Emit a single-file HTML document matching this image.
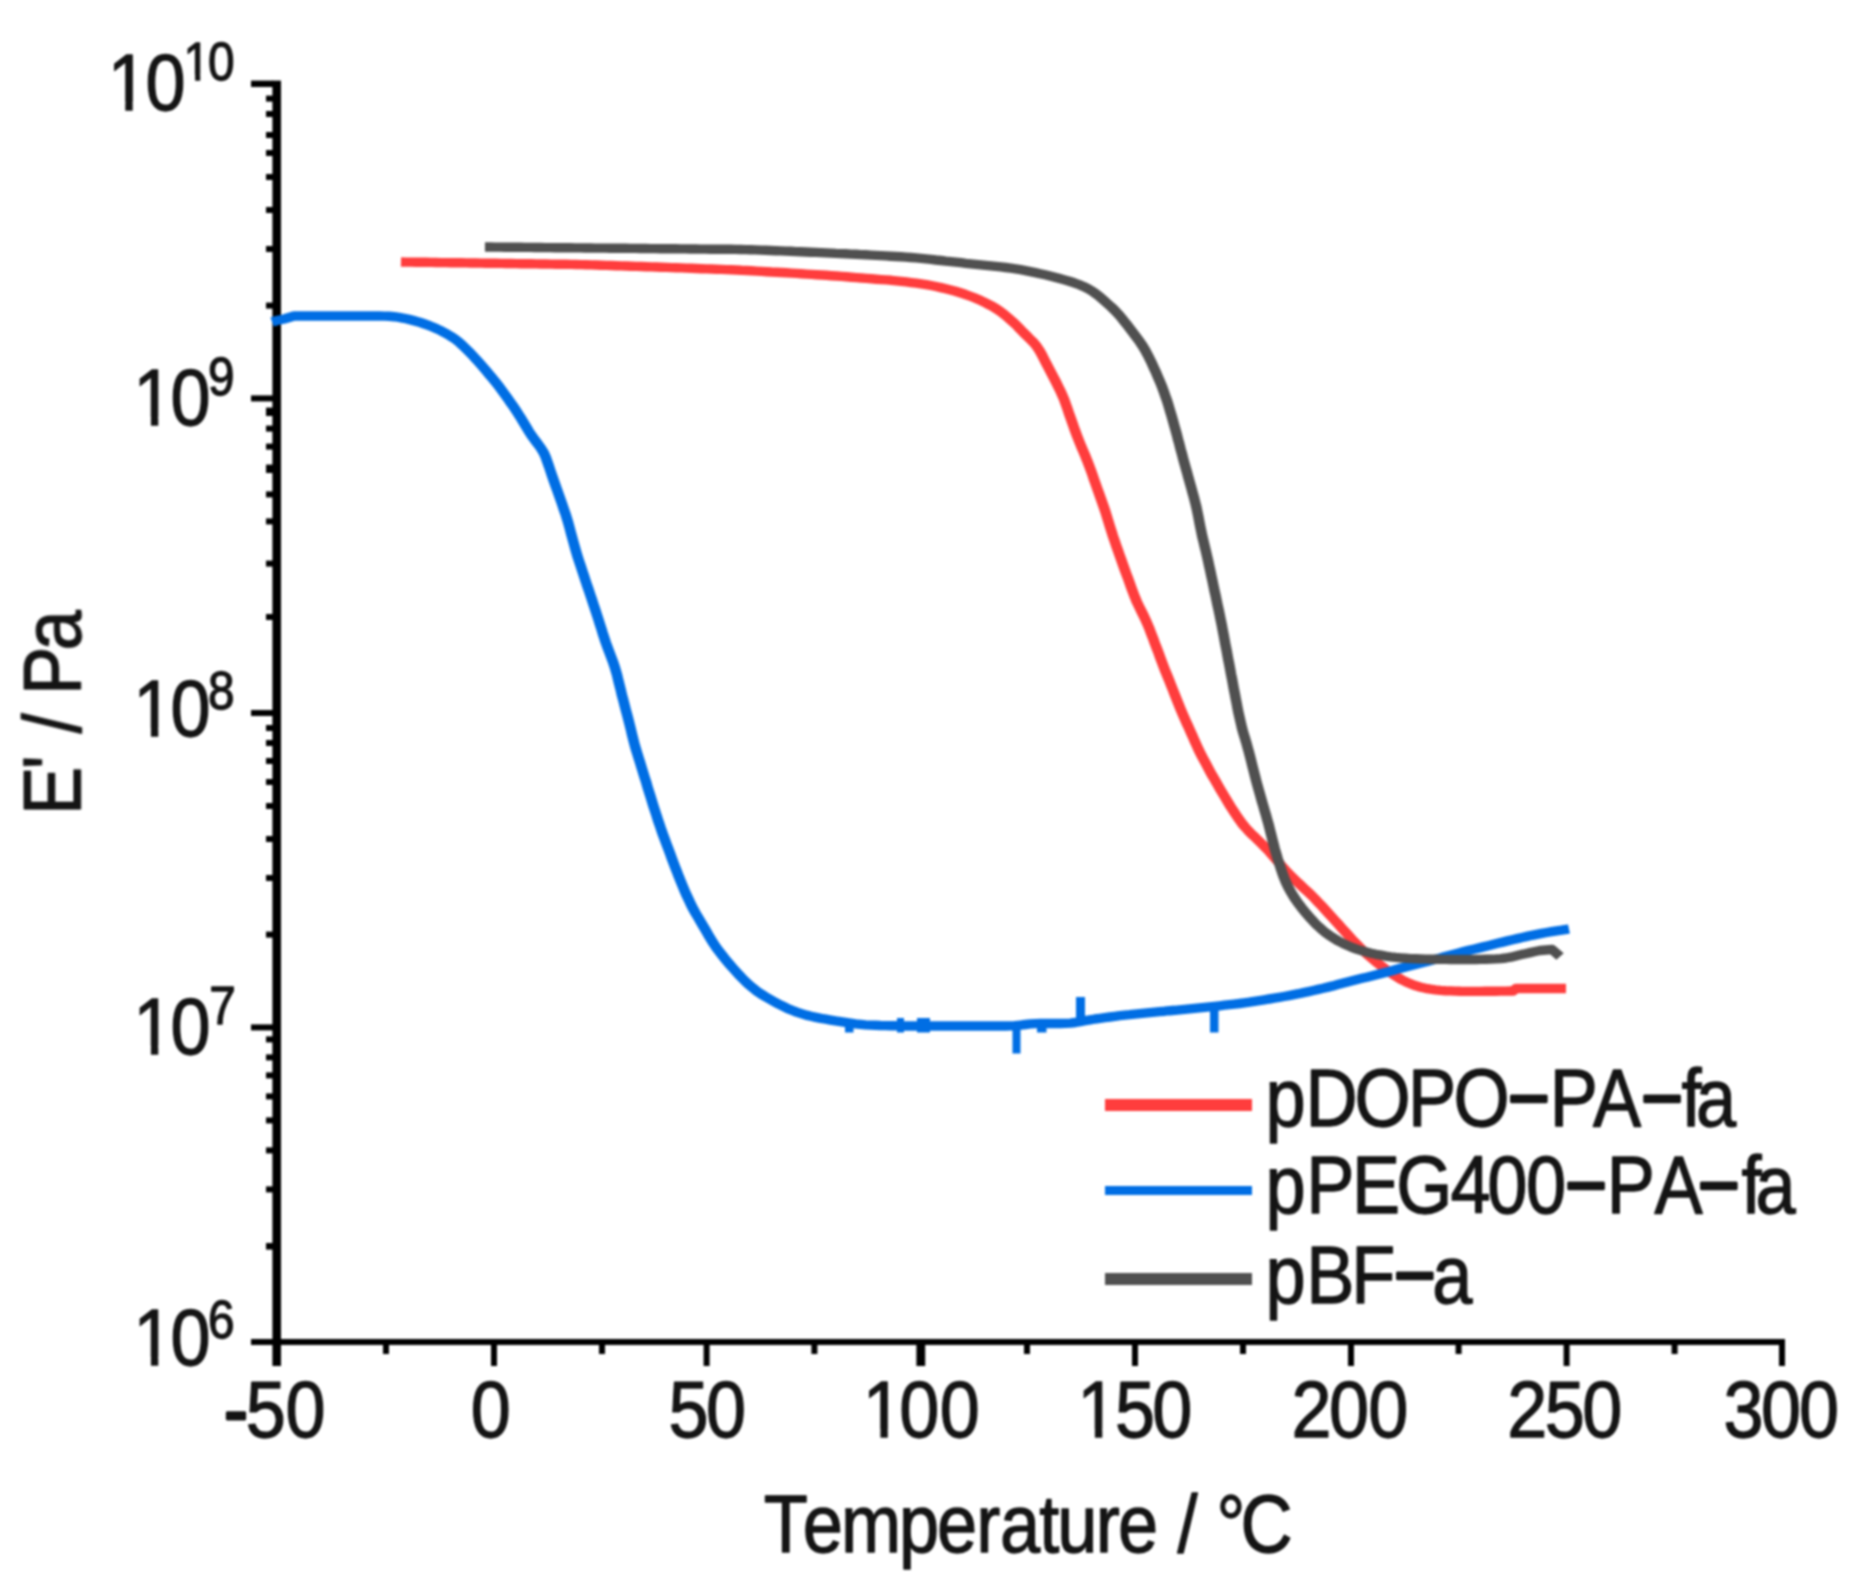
<!DOCTYPE html>
<html lang="en"><head><meta charset="utf-8"><title>Storage modulus vs temperature</title>
<style>html,body{margin:0;padding:0;background:#fff}svg{display:block}</style></head>
<body>
<svg width="1875" height="1595" viewBox="0 0 1875 1595">
<defs><filter id="soft" color-interpolation-filters="sRGB" x="0" y="0" width="1875" height="1595" filterUnits="userSpaceOnUse"><feGaussianBlur stdDeviation="0.9"/></filter></defs>
<rect width="1875" height="1595" fill="#fff"/>
<g filter="url(#soft)">
<g fill="#000">
<rect x="272.4" y="80.6" width="8.6" height="1285.4"/>
<rect x="251" y="1339" width="1534" height="6"/>
<rect x="251" y="80.6" width="22" height="6.4"/>
<rect x="251" y="395.4" width="22" height="6.0"/>
<rect x="251" y="710.0" width="22" height="6.0"/>
<rect x="251" y="1024.4" width="22" height="6.0"/>
<rect x="266" y="95.6" width="7" height="6.0"/>
<rect x="266" y="111.0" width="7" height="6.0"/>
<rect x="266" y="132.0" width="7" height="6.0"/>
<rect x="266" y="150.0" width="7" height="6.0"/>
<rect x="266" y="174.0" width="7" height="6.0"/>
<rect x="266" y="207.0" width="7" height="6.0"/>
<rect x="266" y="246.0" width="7" height="6.0"/>
<rect x="266" y="302.6" width="7" height="6.0"/>
<rect x="266" y="407.6" width="7" height="8.4"/>
<rect x="266" y="425.6" width="7" height="6.0"/>
<rect x="266" y="443.6" width="7" height="6.0"/>
<rect x="266" y="464.6" width="7" height="8.4"/>
<rect x="266" y="491.4" width="7" height="6.0"/>
<rect x="266" y="518.4" width="7" height="6.0"/>
<rect x="266" y="560.6" width="7" height="6.0"/>
<rect x="266" y="614.0" width="7" height="6.0"/>
<rect x="266" y="725.0" width="7" height="6.0"/>
<rect x="266" y="740.0" width="7" height="6.0"/>
<rect x="266" y="758.0" width="7" height="6.0"/>
<rect x="266" y="779.0" width="7" height="6.0"/>
<rect x="266" y="803.0" width="7" height="6.0"/>
<rect x="266" y="836.0" width="7" height="6.0"/>
<rect x="266" y="875.0" width="7" height="6.0"/>
<rect x="266" y="931.6" width="7" height="6.0"/>
<rect x="266" y="1036.4" width="7" height="6.0"/>
<rect x="266" y="1054.4" width="7" height="6.0"/>
<rect x="266" y="1072.4" width="7" height="6.0"/>
<rect x="266" y="1093.4" width="7" height="6.0"/>
<rect x="266" y="1117.4" width="7" height="6.0"/>
<rect x="266" y="1147.4" width="7" height="6.0"/>
<rect x="266" y="1186.4" width="7" height="6.0"/>
<rect x="266" y="1243.0" width="7" height="6.6"/>
<rect x="491.0" y="1344" width="6.0" height="22"/>
<rect x="703.6" y="1344" width="6.0" height="22"/>
<rect x="916.4" y="1344" width="8.8" height="22"/>
<rect x="1132.0" y="1344" width="6.0" height="22"/>
<rect x="1348.0" y="1344" width="6.0" height="22"/>
<rect x="1563.6" y="1344" width="6.0" height="22"/>
<rect x="1779.0" y="1344" width="6.0" height="22"/>
<rect x="383.0" y="1344" width="6.0" height="10"/>
<rect x="599.0" y="1344" width="6.0" height="10"/>
<rect x="811.4" y="1344" width="6.0" height="10"/>
<rect x="1024.0" y="1344" width="6.0" height="10"/>
<rect x="1240.0" y="1344" width="6.0" height="10"/>
<rect x="1455.6" y="1344" width="6.0" height="10"/>
<rect x="1671.6" y="1344" width="6.0" height="10"/>
</g>
<g fill="none" stroke-linejoin="round" stroke-linecap="butt" transform="scale(1.12 1)">
<path d="M358.0 262.0 L362.5 262.1 L367.0 262.1 L371.5 262.2 L375.9 262.3 L380.4 262.3 L384.9 262.4 L389.3 262.5 L393.8 262.6 L398.3 262.6 L402.8 262.7 L407.2 262.8 L411.7 262.8 L416.2 262.9 L420.6 263.0 L425.1 263.0 L429.6 263.1 L434.1 263.2 L438.5 263.3 L443.0 263.3 L447.5 263.4 L451.9 263.5 L456.4 263.5 L460.9 263.6 L465.4 263.7 L469.8 263.7 L474.3 263.8 L478.8 263.9 L483.2 264.0 L487.7 264.0 L492.2 264.1 L496.7 264.2 L501.1 264.2 L505.6 264.3 L510.1 264.4 L514.5 264.5 L519.0 264.6 L523.5 264.7 L528.0 264.9 L532.4 265.0 L536.9 265.2 L541.4 265.4 L545.8 265.5 L550.3 265.7 L554.8 265.9 L559.2 266.0 L563.7 266.2 L568.2 266.4 L572.7 266.5 L577.1 266.7 L581.6 266.9 L586.1 267.0 L590.5 267.2 L595.0 267.4 L599.5 267.6 L603.9 267.7 L608.4 267.9 L612.9 268.1 L617.4 268.3 L621.8 268.5 L626.3 268.7 L630.8 268.9 L635.2 269.0 L639.7 269.2 L644.2 269.4 L648.6 269.6 L653.1 269.8 L657.6 270.0 L662.0 270.3 L666.5 270.5 L671.0 270.8 L675.4 271.1 L679.9 271.4 L684.4 271.7 L688.8 272.0 L693.3 272.2 L697.8 272.5 L702.2 272.8 L706.7 273.1 L711.2 273.4 L715.6 273.7 L720.1 274.1 L724.5 274.4 L729.0 274.7 L733.5 275.0 L737.9 275.3 L742.4 275.7 L746.9 276.0 L751.3 276.4 L755.8 276.8 L760.2 277.2 L764.7 277.6 L769.1 278.0 L773.6 278.4 L778.1 278.8 L782.5 279.2 L787.0 279.6 L791.4 279.9 L795.9 280.3 L800.3 280.8 L804.8 281.3 L809.2 281.9 L813.7 282.6 L818.1 283.2 L822.5 283.9 L827.0 284.6 L831.3 285.5 L835.7 286.5 L840.1 287.6 L844.4 288.8 L848.8 290.0 L853.1 291.3 L857.4 292.8 L861.6 294.3 L865.8 296.0 L870.0 297.8 L874.1 299.7 L878.1 301.8 L882.1 304.1 L886.1 306.4 L889.9 309.0 L893.5 311.8 L897.1 314.9 L900.5 318.1 L903.8 321.4 L907.1 324.8 L910.2 328.4 L913.3 332.0 L916.5 335.5 L919.6 339.0 L922.8 342.5 L925.6 346.3 L928.0 350.3 L930.2 354.7 L932.2 359.1 L934.2 363.6 L936.3 368.0 L938.4 372.4 L940.5 376.9 L942.5 381.3 L944.5 385.8 L946.5 390.3 L948.3 394.8 L950.1 399.4 L951.6 404.1 L953.1 408.9 L954.5 413.6 L956.0 418.3 L957.5 423.0 L959.0 427.8 L960.5 432.5 L962.1 437.2 L963.7 441.8 L965.4 446.5 L967.2 451.1 L968.9 455.7 L970.6 460.3 L972.2 465.0 L973.8 469.7 L975.3 474.4 L976.7 479.1 L978.2 483.9 L979.7 488.6 L981.2 493.3 L982.7 498.0 L984.2 502.7 L985.7 507.5 L987.1 512.2 L988.4 517.0 L989.7 521.8 L991.0 526.6 L992.4 531.4 L993.7 536.1 L995.2 540.9 L996.6 545.6 L998.1 550.3 L999.6 555.1 L1001.1 559.8 L1002.6 564.5 L1004.1 569.2 L1005.6 573.9 L1007.2 578.6 L1008.7 583.3 L1010.2 588.0 L1011.8 592.7 L1013.4 597.4 L1015.1 602.0 L1017.0 606.5 L1019.0 611.0 L1021.0 615.5 L1022.9 620.0 L1024.7 624.6 L1026.4 629.2 L1028.0 633.9 L1029.6 638.6 L1031.1 643.3 L1032.7 647.9 L1034.3 652.6 L1035.8 657.3 L1037.4 662.0 L1039.0 666.7 L1040.6 671.4 L1042.3 676.0 L1044.0 680.7 L1045.6 685.3 L1047.3 690.0 L1048.9 694.6 L1050.6 699.3 L1052.2 703.9 L1053.9 708.6 L1055.6 713.2 L1057.4 717.8 L1059.2 722.4 L1061.1 726.9 L1062.9 731.5 L1064.8 736.1 L1066.5 740.6 L1068.4 745.2 L1070.2 749.8 L1072.2 754.2 L1074.3 758.7 L1076.4 763.1 L1078.5 767.5 L1080.6 771.9 L1082.8 776.3 L1085.1 780.6 L1087.3 785.0 L1089.5 789.3 L1091.8 793.6 L1094.1 797.9 L1096.4 802.2 L1098.7 806.5 L1101.1 810.7 L1103.6 814.9 L1106.1 819.0 L1108.7 823.1 L1111.5 826.9 L1114.5 830.6 L1117.6 834.2 L1120.9 837.6 L1124.1 841.1 L1127.3 844.6 L1130.4 848.2 L1133.5 851.8 L1136.4 855.6 L1139.3 859.4 L1142.2 863.2 L1145.1 867.0 L1148.1 870.7 L1151.2 874.3 L1154.4 877.8 L1157.6 881.3 L1160.9 884.8 L1164.1 888.2 L1167.4 891.6 L1170.7 895.0 L1173.8 898.5 L1176.9 902.2 L1180.0 905.8 L1183.0 909.5 L1186.0 913.2 L1189.0 916.9 L1192.0 920.6 L1195.0 924.3 L1198.0 928.1 L1201.0 931.8 L1204.0 935.5 L1207.0 939.2 L1210.1 942.8 L1213.2 946.4 L1216.4 949.9 L1219.7 953.3 L1223.1 956.6 L1226.5 959.8 L1229.9 963.0 L1233.5 966.1 L1237.0 969.1 L1240.7 972.0 L1244.3 974.8 L1248.1 977.5 L1251.9 980.0 L1255.9 982.2 L1260.0 984.1 L1264.2 985.8 L1268.5 987.2 L1272.8 988.3 L1277.2 989.2 L1281.6 989.9 L1286.1 990.4 L1290.5 990.7 L1295.0 990.9 L1299.5 991.1 L1303.9 991.3 L1308.4 991.4 L1312.9 991.4 L1317.4 991.4 L1321.8 991.4 L1326.3 991.3 L1330.8 991.2 L1335.2 991.2 L1339.7 991.1 L1344.2 991.1 L1348.7 991.0 L1350.9 991.0 L1353.6 988.5 L1398.2 988.5" stroke="#FF3D3D" stroke-width="9.4"/>
<path d="M243.0 322.0 L247.3 320.5 L253.6 319.0 L262.5 316.0 L267.0 316.0 L271.4 316.0 L275.9 316.0 L280.4 316.0 L284.9 316.0 L289.3 316.0 L293.8 316.0 L298.3 316.0 L302.8 316.0 L307.2 316.0 L311.7 316.0 L316.2 316.0 L320.7 316.0 L325.1 316.0 L329.6 316.0 L334.1 316.0 L338.6 316.0 L343.0 316.1 L347.5 316.3 L351.9 316.7 L356.3 317.4 L360.7 318.3 L365.1 319.4 L369.4 320.6 L373.7 321.9 L377.9 323.5 L382.1 325.2 L386.3 327.0 L390.4 329.0 L394.4 331.2 L398.3 333.6 L402.2 336.1 L405.9 338.8 L409.4 341.8 L412.7 345.1 L415.9 348.6 L419.1 352.2 L422.2 355.8 L425.2 359.4 L428.2 363.2 L431.1 366.9 L434.0 370.7 L436.9 374.6 L439.8 378.4 L442.6 382.3 L445.4 386.2 L448.0 390.3 L450.6 394.3 L453.3 398.4 L455.8 402.5 L458.4 406.6 L460.9 410.7 L463.3 415.0 L465.7 419.2 L468.0 423.5 L470.3 427.8 L472.6 432.1 L475.1 436.2 L477.7 440.3 L480.4 444.2 L483.0 448.2 L485.3 452.4 L487.1 456.8 L488.6 461.5 L490.1 466.2 L491.5 471.0 L492.9 475.7 L494.4 480.5 L495.9 485.2 L497.4 489.9 L498.9 494.7 L500.4 499.4 L501.9 504.1 L503.3 508.8 L504.8 513.6 L506.1 518.3 L507.4 523.1 L508.6 528.0 L509.7 532.8 L510.9 537.6 L512.1 542.5 L513.3 547.3 L514.5 552.1 L515.8 556.9 L517.2 561.7 L518.6 566.4 L520.0 571.2 L521.4 575.9 L522.8 580.7 L524.2 585.5 L525.7 590.2 L527.1 595.0 L528.5 599.7 L529.9 604.5 L531.3 609.2 L532.7 614.0 L534.1 618.8 L535.4 623.5 L536.8 628.3 L538.1 633.1 L539.5 637.8 L540.9 642.6 L542.4 647.3 L544.0 652.0 L545.6 656.7 L547.2 661.4 L548.6 666.1 L549.9 670.9 L551.1 675.7 L552.1 680.6 L553.2 685.4 L554.3 690.3 L555.3 695.2 L556.5 700.0 L557.6 704.9 L558.7 709.7 L559.9 714.6 L561.0 719.4 L562.1 724.3 L563.2 729.1 L564.2 734.0 L565.3 738.9 L566.4 743.7 L567.6 748.5 L568.9 753.3 L570.2 758.1 L571.6 762.9 L572.9 767.7 L574.2 772.5 L575.5 777.2 L576.9 782.0 L578.1 786.8 L579.4 791.6 L580.8 796.4 L582.1 801.2 L583.4 806.0 L584.8 810.8 L586.2 815.5 L587.5 820.3 L589.0 825.0 L590.4 829.8 L591.9 834.5 L593.5 839.2 L595.0 843.9 L596.6 848.6 L598.2 853.3 L599.7 858.0 L601.3 862.7 L602.9 867.4 L604.5 872.0 L606.1 876.7 L607.8 881.3 L609.5 886.0 L611.2 890.6 L613.0 895.2 L614.9 899.7 L616.8 904.3 L618.8 908.7 L621.0 913.1 L623.3 917.4 L625.5 921.7 L627.8 926.0 L630.1 930.3 L632.3 934.7 L634.6 939.0 L636.9 943.2 L639.4 947.4 L642.1 951.4 L644.8 955.3 L647.6 959.2 L650.5 963.1 L653.4 966.9 L656.4 970.6 L659.4 974.4 L662.5 978.0 L665.6 981.5 L668.9 984.9 L672.3 988.1 L675.8 991.2 L679.5 994.0 L683.3 996.6 L687.2 999.1 L691.1 1001.6 L695.0 1004.0 L699.0 1006.2 L703.0 1008.4 L707.1 1010.3 L711.3 1012.1 L715.5 1013.6 L719.8 1015.1 L724.1 1016.3 L728.5 1017.4 L732.9 1018.4 L737.3 1019.2 L741.7 1020.1 L746.1 1020.9 L750.5 1021.6 L755.0 1022.4 L759.4 1023.1 L763.8 1023.8 L768.3 1024.4 L772.7 1024.9 L777.2 1025.1 L781.6 1025.3 L786.1 1025.5 L790.6 1025.6 L795.0 1025.7 L799.5 1025.8 L804.0 1025.9 L808.5 1026.0 L812.9 1026.0 L817.4 1026.0 L821.9 1026.0 L826.4 1026.0 L830.8 1026.0 L835.3 1026.0 L839.8 1026.0 L844.2 1026.0 L848.7 1026.0 L853.2 1026.0 L857.7 1026.0 L862.1 1026.0 L866.6 1026.0 L871.1 1026.0 L875.6 1026.0 L880.0 1026.0 L884.5 1026.0 L889.0 1026.0 L893.5 1026.0 L897.9 1026.0 L902.4 1025.9 L906.8 1025.7 L911.2 1025.1 L915.6 1024.5 L920.0 1023.9 L924.4 1023.6 L928.9 1023.5 L933.3 1023.5 L937.8 1023.5 L942.3 1023.5 L946.8 1023.5 L951.2 1023.4 L955.7 1023.1 L960.1 1022.5 L964.4 1021.6 L968.8 1020.7 L973.2 1019.8 L977.6 1019.0 L982.1 1018.3 L986.5 1017.6 L990.9 1017.0 L995.4 1016.3 L999.8 1015.7 L1004.3 1015.2 L1008.7 1014.7 L1013.1 1014.1 L1017.6 1013.6 L1022.0 1013.1 L1026.5 1012.6 L1031.0 1012.1 L1035.4 1011.6 L1039.9 1011.2 L1044.3 1010.7 L1048.8 1010.3 L1053.2 1009.8 L1057.7 1009.3 L1062.1 1008.8 L1066.6 1008.3 L1071.0 1007.8 L1075.5 1007.3 L1079.9 1006.8 L1084.4 1006.3 L1088.8 1005.8 L1093.3 1005.2 L1097.7 1004.7 L1102.2 1004.1 L1106.6 1003.5 L1111.0 1002.8 L1115.5 1002.1 L1119.9 1001.3 L1124.3 1000.6 L1128.7 999.8 L1133.2 999.0 L1137.6 998.2 L1142.0 997.4 L1146.4 996.5 L1150.8 995.6 L1155.2 994.6 L1159.6 993.7 L1163.9 992.6 L1168.3 991.6 L1172.7 990.5 L1177.0 989.4 L1181.4 988.3 L1185.7 987.1 L1190.1 985.9 L1194.4 984.6 L1198.7 983.3 L1203.1 982.0 L1207.4 980.8 L1211.7 979.5 L1216.1 978.3 L1220.4 977.2 L1224.8 976.0 L1229.1 974.8 L1233.4 973.5 L1237.8 972.2 L1242.1 970.9 L1246.4 969.6 L1250.7 968.2 L1255.0 966.9 L1259.3 965.7 L1263.7 964.4 L1268.0 963.2 L1272.4 962.0 L1276.7 960.7 L1281.0 959.5 L1285.3 958.2 L1289.6 956.8 L1294.0 955.5 L1298.3 954.2 L1302.6 952.9 L1306.9 951.6 L1311.3 950.4 L1315.6 949.3 L1320.0 948.1 L1324.3 946.9 L1328.7 945.7 L1333.0 944.5 L1337.3 943.3 L1341.7 942.1 L1346.0 940.9 L1350.4 939.7 L1354.7 938.6 L1359.1 937.5 L1363.5 936.4 L1367.8 935.3 L1372.2 934.3 L1376.6 933.4 L1381.0 932.5 L1385.4 931.7 L1389.8 930.9 L1394.3 930.2 L1398.7 929.4 L1400.9 929.0" stroke="#006EE4" stroke-width="9.4"/>
<path d="M433.0 247.0 L437.5 247.0 L442.0 247.1 L446.5 247.1 L450.9 247.2 L455.4 247.2 L459.9 247.3 L464.4 247.3 L468.8 247.4 L473.3 247.4 L477.8 247.5 L482.3 247.5 L486.8 247.6 L491.2 247.6 L495.7 247.7 L500.2 247.7 L504.7 247.8 L509.1 247.8 L513.6 247.9 L518.1 247.9 L522.6 248.0 L527.0 248.0 L531.5 248.1 L536.0 248.1 L540.5 248.1 L544.9 248.2 L549.4 248.2 L553.9 248.3 L558.4 248.3 L562.8 248.4 L567.3 248.4 L571.8 248.5 L576.3 248.5 L580.8 248.6 L585.2 248.6 L589.7 248.7 L594.2 248.7 L598.7 248.8 L603.1 248.8 L607.6 248.9 L612.1 248.9 L616.6 249.0 L621.0 249.0 L625.5 249.1 L630.0 249.1 L634.5 249.2 L638.9 249.2 L643.4 249.2 L647.9 249.3 L652.4 249.3 L656.8 249.4 L661.3 249.5 L665.8 249.6 L670.3 249.7 L674.7 249.9 L679.2 250.1 L683.7 250.3 L688.2 250.5 L692.6 250.7 L697.1 250.9 L701.6 251.1 L706.1 251.3 L710.5 251.6 L715.0 251.8 L719.5 252.0 L723.9 252.2 L728.4 252.4 L732.9 252.6 L737.4 252.9 L741.8 253.1 L746.3 253.4 L750.8 253.6 L755.2 253.8 L759.7 254.1 L764.2 254.3 L768.7 254.6 L773.1 254.8 L777.6 255.1 L782.1 255.4 L786.5 255.6 L791.0 255.9 L795.5 256.2 L799.9 256.5 L804.4 256.8 L808.9 257.1 L813.3 257.5 L817.8 257.9 L822.3 258.4 L826.7 258.9 L831.2 259.4 L835.6 260.0 L840.1 260.5 L844.5 261.1 L849.0 261.6 L853.4 262.1 L857.9 262.7 L862.3 263.3 L866.8 263.8 L871.2 264.3 L875.7 264.8 L880.1 265.3 L884.6 265.8 L889.0 266.3 L893.5 266.9 L897.9 267.5 L902.4 268.2 L906.8 268.9 L911.2 269.7 L915.6 270.6 L920.0 271.6 L924.4 272.6 L928.7 273.7 L933.1 274.8 L937.5 276.0 L941.8 277.2 L946.1 278.5 L950.4 279.9 L954.7 281.3 L959.0 282.8 L963.2 284.5 L967.3 286.4 L971.3 288.6 L975.1 291.1 L978.7 294.0 L982.2 297.1 L985.6 300.4 L988.9 303.7 L992.2 307.0 L995.4 310.5 L998.5 314.2 L1001.4 318.0 L1004.2 321.9 L1007.0 325.8 L1009.7 329.8 L1012.4 333.8 L1015.1 337.8 L1017.7 341.8 L1020.2 346.0 L1022.5 350.3 L1024.6 354.7 L1026.6 359.2 L1028.6 363.7 L1030.4 368.2 L1032.3 372.8 L1034.0 377.4 L1035.8 382.0 L1037.5 386.7 L1039.0 391.3 L1040.5 396.1 L1042.0 400.8 L1043.3 405.6 L1044.6 410.4 L1045.9 415.2 L1047.1 420.0 L1048.3 424.8 L1049.5 429.7 L1050.7 434.5 L1051.8 439.4 L1053.0 444.2 L1054.1 449.1 L1055.3 453.9 L1056.4 458.7 L1057.6 463.6 L1058.8 468.4 L1060.0 473.2 L1061.2 478.1 L1062.4 482.9 L1063.6 487.7 L1064.8 492.6 L1066.0 497.4 L1067.1 502.2 L1068.2 507.1 L1069.1 512.0 L1070.0 516.9 L1070.8 521.8 L1071.7 526.8 L1072.6 531.7 L1073.5 536.6 L1074.6 541.4 L1075.6 546.3 L1076.7 551.2 L1077.7 556.1 L1078.7 561.0 L1079.6 565.9 L1080.6 570.8 L1081.5 575.7 L1082.5 580.6 L1083.4 585.5 L1084.3 590.4 L1085.3 595.3 L1086.2 600.2 L1087.1 605.1 L1088.1 610.0 L1089.0 614.9 L1089.9 619.8 L1090.8 624.7 L1091.6 629.6 L1092.5 634.6 L1093.3 639.5 L1094.1 644.4 L1095.0 649.3 L1095.8 654.3 L1096.6 659.2 L1097.5 664.1 L1098.3 669.0 L1099.1 674.0 L1100.0 678.9 L1100.8 683.8 L1101.6 688.7 L1102.5 693.7 L1103.3 698.6 L1104.2 703.5 L1105.0 708.4 L1105.9 713.3 L1106.9 718.2 L1107.9 723.1 L1108.9 728.0 L1110.1 732.8 L1111.4 737.6 L1112.7 742.4 L1113.9 747.3 L1115.1 752.1 L1116.2 756.9 L1117.3 761.8 L1118.4 766.7 L1119.5 771.5 L1120.6 776.4 L1121.7 781.2 L1122.9 786.1 L1124.1 790.9 L1125.3 795.7 L1126.5 800.5 L1127.8 805.4 L1129.0 810.2 L1130.3 815.0 L1131.5 819.8 L1132.7 824.6 L1133.8 829.5 L1134.9 834.4 L1136.0 839.2 L1137.1 844.1 L1138.2 848.9 L1139.5 853.7 L1140.7 858.5 L1142.1 863.3 L1143.5 868.1 L1144.9 872.8 L1146.4 877.5 L1148.1 882.2 L1150.0 886.7 L1152.1 891.1 L1154.4 895.4 L1156.8 899.6 L1159.4 903.7 L1162.1 907.7 L1164.9 911.6 L1167.8 915.4 L1170.7 919.1 L1173.8 922.8 L1177.0 926.3 L1180.3 929.6 L1183.7 932.8 L1187.4 935.7 L1191.1 938.4 L1194.9 941.0 L1198.9 943.3 L1202.9 945.4 L1207.0 947.4 L1211.2 949.1 L1215.5 950.6 L1219.8 951.9 L1224.1 953.2 L1228.5 954.3 L1232.9 955.2 L1237.3 956.1 L1241.7 956.8 L1246.1 957.4 L1250.6 957.9 L1255.1 958.3 L1259.5 958.6 L1264.0 958.8 L1268.5 959.0 L1272.9 959.1 L1277.4 959.2 L1281.9 959.3 L1286.4 959.4 L1290.8 959.4 L1295.3 959.5 L1299.8 959.5 L1304.3 959.5 L1308.7 959.5 L1313.2 959.5 L1317.7 959.5 L1322.2 959.4 L1326.6 959.3 L1331.1 959.1 L1335.6 958.9 L1340.0 958.6 L1344.5 958.0 L1348.8 957.2 L1353.2 956.0 L1357.5 954.8 L1361.9 953.7 L1366.2 952.6 L1370.6 951.5 L1375.0 950.5 L1385.7 949.5 L1392.9 956.5" stroke="#505050" stroke-width="9.4"/>
</g>
<g fill="#006EE4">
<rect x="1012.5" y="1024.0" width="8.0" height="29.5"/>
<rect x="1037.0" y="1022.0" width="9.5" height="10.5"/>
<rect x="1076.0" y="997.0" width="9.0" height="25.0"/>
<rect x="1210.0" y="1006.0" width="8.5" height="26.5"/>
<rect x="845.0" y="1024.0" width="8.5" height="8.5"/>
<rect x="897.0" y="1018.0" width="7.0" height="14.5"/>
<rect x="917.0" y="1018.0" width="13.0" height="14.5"/>
</g>
<g font-family="'Liberation Sans', Arial, Helvetica, sans-serif" fill="#141414" stroke="#141414" stroke-width="1.3" stroke-linejoin="round">
<text transform="translate(0 109.7) scale(0.900 1.000)" x="119.7 161.6" y="0" font-size="80.0">10</text>
<text transform="translate(0 80.3) scale(0.900 1.000)" x="204.0 231.0" y="0" font-size="53.0">10</text>
<text transform="translate(0 425.0) scale(0.900 1.000)" x="148.1 189.4" y="0" font-size="80.0">10</text>
<text transform="translate(0 395.0) scale(0.900 1.000)" x="231.2" y="0" font-size="53.0">9</text>
<text transform="translate(0 736.3) scale(0.900 1.000)" x="148.1 189.4" y="0" font-size="80.0">10</text>
<text transform="translate(0 709.0) scale(0.900 1.000)" x="231.2" y="0" font-size="53.0">8</text>
<text transform="translate(0 1053.7) scale(0.900 1.000)" x="148.1 189.4" y="0" font-size="80.0">10</text>
<text transform="translate(0 1024.0) scale(0.900 1.000)" x="232.5" y="0" font-size="53.0">7</text>
<text transform="translate(0 1365.0) scale(0.900 1.000)" x="148.1 189.4" y="0" font-size="80.0">10</text>
<text transform="translate(0 1338.0) scale(0.900 1.000)" x="231.0" y="0" font-size="53.0">6</text>
<text transform="translate(0 1437.3) scale(0.900 1.000)" x="248.9 273.2 317.2" y="0" font-size="80.0"><tspan stroke-width="3">-</tspan>50</text>
<text transform="translate(0 1437.3) scale(0.900 1.000)" x="523.1" y="0" font-size="80.0">0</text>
<text transform="translate(0 1437.3) scale(0.900 1.000)" x="742.8 784.4" y="0" font-size="80.0">50</text>
<text transform="translate(0 1437.3) scale(0.900 1.000)" x="958.7 999.1 1044.2" y="0" font-size="80.0">100</text>
<text transform="translate(0 1437.3) scale(0.900 1.000)" x="1197.0 1238.9 1280.3" y="0" font-size="80.0">150</text>
<text transform="translate(0 1437.3) scale(0.900 1.000)" x="1435.1 1476.8 1520.3" y="0" font-size="80.0">200</text>
<text transform="translate(0 1437.3) scale(0.900 1.000)" x="1674.8 1716.5 1758.0" y="0" font-size="80.0">250</text>
<text transform="translate(0 1437.3) scale(0.900 1.000)" x="1915.0 1956.8 1998.9" y="0" font-size="80.0">300</text>
<text transform="translate(0 1552.0) scale(0.880 1.000)" x="867.8 912.3 955.6 1021.7 1064.8 1109.3 1136.3 1180.9 1201.4 1245.1 1270.5 1304.3 1338.0 1360.3 1382.5 1409.6" y="0" font-size="82.0">Temperature / °C</text>
<g transform="translate(80.4 0) rotate(-90)"><text transform="translate(0 0.0) scale(0.880 1.000)" x="-925.9 -874.0 -853.7 -833.3 -811.4 -789.6 -739.0" y="0" font-size="82.0">E' / Pa</text></g>
<text transform="translate(0 1126.0) scale(0.880 1.000)" x="1438.2 1483.5 1539.2 1599.9 1651.7 1713.5 1761.2 1810.2 1864.9 1910.9 1927.2" y="0" font-size="82.0">pDOPO<tspan stroke-width="3">−</tspan>PA<tspan stroke-width="3">−</tspan>fa</text>
<text transform="translate(0 1213.0) scale(0.880 1.000)" x="1438.2 1484.3 1536.4 1586.7 1648.4 1690.0 1734.0 1778.3 1826.0 1880.0 1929.4 1978.9 1994.8" y="0" font-size="82.0">pPEG400<tspan stroke-width="3">−</tspan>PA<tspan stroke-width="3">−</tspan>fa</text>
<text transform="translate(0 1303.0) scale(0.880 1.000)" x="1438.2 1484.3 1535.4 1583.8 1627.7" y="0" font-size="82.0">pBF<tspan stroke-width="3">−</tspan>a</text>
</g>
<g fill="#fff"><rect x="111.7" y="101.7" width="13.6" height="9.4"/><rect x="132.7" y="101.7" width="13.1" height="9.4"/><rect x="185.7" y="74.3" width="9.4" height="7.4"/><rect x="200.3" y="74.3" width="9.0" height="7.4"/><rect x="137.3" y="417.0" width="13.6" height="9.4"/><rect x="158.3" y="417.0" width="13.1" height="9.4"/><rect x="137.3" y="728.3" width="13.6" height="9.4"/><rect x="158.3" y="728.3" width="13.1" height="9.4"/><rect x="137.3" y="1045.7" width="13.6" height="9.4"/><rect x="158.3" y="1045.7" width="13.1" height="9.4"/><rect x="137.3" y="1357.0" width="13.6" height="9.4"/><rect x="158.3" y="1357.0" width="13.1" height="9.4"/><rect x="866.8" y="1429.3" width="13.6" height="9.4"/><rect x="887.8" y="1429.3" width="13.1" height="9.4"/><rect x="1081.3" y="1429.3" width="13.6" height="9.4"/><rect x="1102.3" y="1429.3" width="13.1" height="9.4"/></g>
<rect x="1105" y="1099" width="147" height="12" fill="#FF3D3D"/>
<rect x="1105" y="1186" width="147" height="9" fill="#006EE4"/>
<rect x="1105" y="1273" width="147" height="12" fill="#505050"/>
</g>
</svg>
</body></html>
